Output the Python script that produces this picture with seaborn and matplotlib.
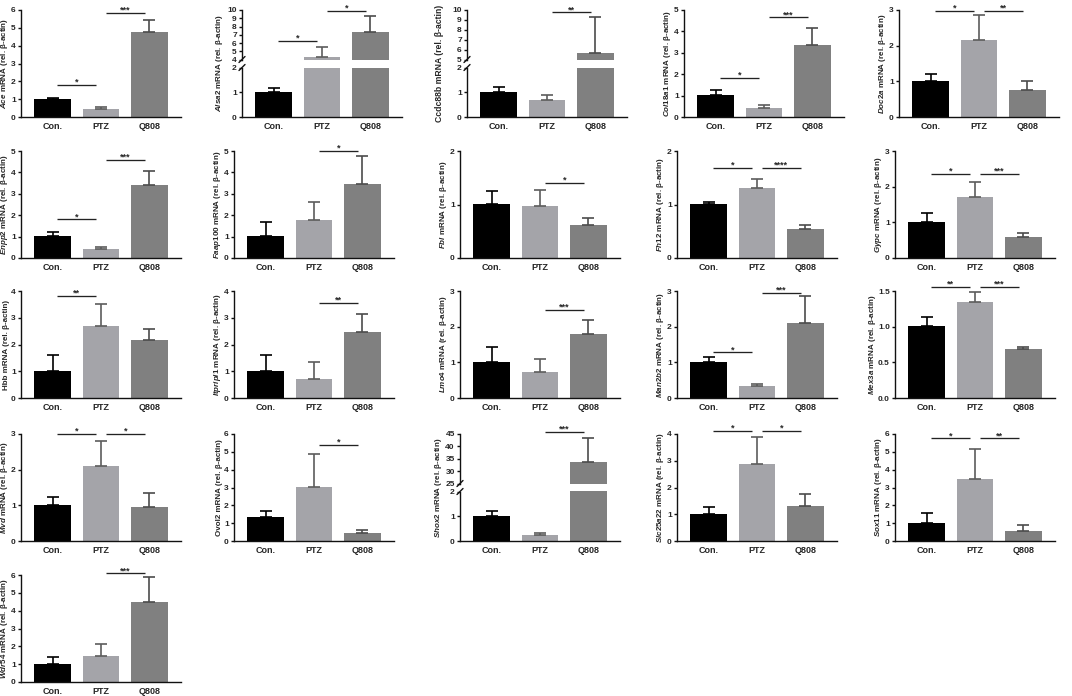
import numpy as np
import matplotlib
matplotlib.use("Agg")
import matplotlib.pyplot as plt
import seaborn as sns

# groups and colours
groups = ["Con.", "PTZ", "Q808"]
bar_colors = ["#000000", "#a4a4a9", "#808080"]
err_colors = ["#000000", "#5c5c5c", "#4c4c4c"]

# genes in panel order (row by row)
genes = ["Ace", "Alsa2", "Ccdc88b", "Col18a1", "Doc2a",
         "Enpp2", "Faap100", "Fbl", "Fh12", "Gypc",
         "Hbb", "Itpripl1", "Lmo4", "Man2b2", "Mex3a",
         "Mvd", "Ovol2", "Shox2", "Slc25a22", "Sox11",
         "Wdr54"]
upright = ["Ccdc88b", "Hbb", "Ovol2"]

# bar heights (mean) and error bar tops
con_mean = [1.02, 1.03, 1.03, 1.02, 1.01, 1.02, 1.01, 1.01, 1.01, 1.01,
            1.02, 1.02, 1.02, 1.02, 1.01, 1.02, 1.37, 1.03, 1.02, 1.03, 1.01]
con_top = [1.07, 1.16, 1.20, 1.26, 1.21, 1.20, 1.67, 1.26, 1.05, 1.27,
           1.60, 1.60, 1.44, 1.14, 1.13, 1.24, 1.66, 1.20, 1.26, 1.57, 1.41]
ptz_mean = [0.43, 4.32, 0.68, 0.44, 2.15, 0.40, 1.79, 0.97, 1.30, 1.70,
            2.68, 0.72, 0.73, 0.33, 1.35, 2.09, 3.05, 0.25, 2.89, 3.47, 1.47]
ptz_top = [0.56, 5.52, 0.90, 0.57, 2.87, 0.50, 2.60, 1.27, 1.48, 2.12,
           3.50, 1.35, 1.10, 0.39, 1.49, 2.81, 4.88, 0.31, 3.87, 5.14, 2.15]
q808_mean = [4.75, 7.28, 5.66, 3.38, 0.76, 3.42, 3.48, 0.62, 0.54, 0.58,
             2.15, 2.48, 1.80, 2.11, 0.68, 0.95, 0.43, 33.5, 1.30, 0.56, 4.47]
q808_top = [5.42, 9.25, 9.30, 4.16, 1.00, 4.08, 4.75, 0.74, 0.62, 0.69,
            2.58, 3.15, 2.20, 2.86, 0.71, 1.35, 0.63, 43.5, 1.74, 0.90, 5.90]

# y axis top and tick step
y_top = [6, 10, 10, 5, 3, 5, 5, 2, 2, 3, 4, 4, 3, 3, 1.5, 3, 6, 45, 4, 6, 6]
y_step = [1, 1, 1, 1, 1, 1, 1, 1, 1, 1, 1, 1, 1, 1, 0.5, 1, 1, 5, 1, 1, 1]
# broken axes: lower part 0-2, upper part starts here
break_low = {"Alsa2": 4, "Ccdc88b": 5, "Shox2": 25}

# significance bars: (from, to, stars, height)
sig = [
    [(0, 1, "*", 1.82), (1, 2, "***", 5.85)],
    [(0, 1, "*", 6.3), (1, 2, "*", 9.9)],
    [(1, 2, "**", 9.75)],
    [(0, 1, "*", 1.84), (1, 2, "***", 4.67)],
    [(0, 1, "*", 2.98), (1, 2, "**", 2.98)],
    [(0, 1, "*", 1.80), (1, 2, "***", 4.60)],
    [(1, 2, "*", 5.0)],
    [(1, 2, "*", 1.41)],
    [(0, 1, "*", 1.69), (1, 2, "****", 1.69)],
    [(0, 1, "*", 2.36), (1, 2, "***", 2.36)],
    [(0, 1, "**", 3.83)],
    [(1, 2, "**", 3.55)],
    [(1, 2, "***", 2.48)],
    [(0, 1, "*", 1.28), (1, 2, "***", 2.95)],
    [(0, 1, "**", 1.56), (1, 2, "***", 1.56)],
    [(0, 1, "*", 3.0), (1, 2, "*", 3.0)],
    [(1, 2, "*", 5.4)],
    [(1, 2, "***", 45.8)],
    [(0, 1, "*", 4.12), (1, 2, "*", 4.12)],
    [(0, 1, "*", 5.75), (1, 2, "**", 5.75)],
    [(1, 2, "***", 6.1)],
]

sns.set_style("ticks")
plt.rcParams["font.family"] = ["Liberation Sans", "DejaVu Sans"]
plt.rcParams["font.weight"] = "bold"
plt.rcParams["axes.labelweight"] = "bold"
plt.rcParams["mathtext.fontset"] = "custom"
plt.rcParams["mathtext.it"] = "Liberation Sans:italic:bold"
plt.rcParams["mathtext.rm"] = "Liberation Sans:bold"
plt.rcParams["mathtext.bf"] = "Liberation Sans:bold"

W, H = 1072, 696
fig = plt.figure(figsize=(W / 100, H / 100), dpi=100)

row_base = [117, 258, 398, 541, 682]   # pixel row of y=0
col_left = [[21, 242, 467, 684, 899],
            [21, 234, 460, 677, 895]]
ax_w, ax_h = 160, 107
# distance of the y label's right edge from the axis (px)
label_off = {"Alsa2": 17, "Ccdc88b": 23, "Shox2": 16, "Mex3a": 17}


def px_axes(left, base, w, h):
    return fig.add_axes([left / W, 1 - base / H, w / W, h / H])


def style(ax, bottom=True):
    sns.despine(ax=ax)
    for s in ["left", "bottom"]:
        ax.spines[s].set_linewidth(1.0)
        ax.spines[s].set_color("#111111")
    ax.tick_params(axis="y", length=2.5, width=1.0, labelsize=6, pad=1.2, color="#111111")
    ax.tick_params(axis="x", length=0, labelsize=6.5, pad=3.5)
    ax.set_xlim(-0.65, 2.65)
    ax.set_xlabel("")
    ax.set_ylabel("")
    if not bottom:
        ax.spines["bottom"].set_visible(False)
        ax.set_xticks([])


def draw_bars(ax, means, tops):
    sns.barplot(x=groups, y=means, hue=groups, palette=bar_colors, width=0.75,
                saturation=1, linewidth=0, legend=False, errorbar=None, ax=ax)
    for i in range(3):
        ax.errorbar(i, means[i], yerr=[[0], [tops[i] - means[i]]], fmt="none",
                    ecolor=err_colors[i], elinewidth=1.2, capsize=4.2, capthick=1.2)


def draw_sig(ax, items):
    for a, b, stars, y in items:
        ax.plot([a + 0.1, b - 0.1], [y, y], color="#222222", lw=0.95,
                clip_on=False, solid_capstyle="butt")
        ax.text((a + b) / 2, y, stars, ha="center", va="baseline",
                fontsize=6.5, clip_on=False)


def gene_label(g):
    if g in upright:
        return g + " mRNA (rel. β-actin)"
    return r"$\mathit{" + g + "}$ mRNA (rel. β-actin)"


for k, g in enumerate(genes):
    r, c = divmod(k, 5)
    left = col_left[0 if r == 0 else 1][c]
    base = row_base[r]
    means = [con_mean[k], ptz_mean[k], q808_mean[k]]
    tops = [con_top[k], ptz_top[k], q808_top[k]]
    step = y_step[k]
    off = label_off.get(g, 11)
    fs = 6.2 if g == "Ccdc88b" else 5.8

    if g in break_low:
        gap, hh = 8, (ax_h - 8) / 2
        lo = px_axes(left, base, ax_w, hh)
        up = px_axes(left, base - hh - gap, ax_w, hh)
        draw_bars(lo, means, tops)
        draw_bars(up, means, tops)
        style(lo)
        style(up, bottom=False)
        lo.set_ylim(0, 2)
        lo.set_yticks([0, 1, 2])
        up.set_ylim(break_low[g], y_top[k])
        up.set_yticks(np.arange(break_low[g], y_top[k] + step / 2, step))
        # break marks
        dx, dy = 3 / ax_w, 3 / hh
        for a, yy in [(lo, 1), (up, 0)]:
            a.plot([-dx, dx], [yy - dy, yy + dy], transform=a.transAxes,
                   color="#111111", lw=1.0, clip_on=False)
        draw_sig(up, sig[k])
        lo.set_ylabel(gene_label(g), fontsize=fs)
        lo.yaxis.set_label_coords(-off / ax_w, (ax_h / 2) / hh)
    else:
        ax = px_axes(left, base, ax_w, ax_h)
        draw_bars(ax, means, tops)
        style(ax)
        ax.set_ylim(0, y_top[k])
        ticks = np.arange(0, y_top[k] + step / 2, step)
        ax.set_yticks(ticks)
        if step < 1:
            ax.set_yticklabels([f"{t:.1f}" for t in ticks])
        draw_sig(ax, sig[k])
        ax.set_ylabel(gene_label(g), fontsize=fs)
        ax.yaxis.set_label_coords(-off / ax_w, 0.5)

fig.savefig("out.png", dpi=100)
